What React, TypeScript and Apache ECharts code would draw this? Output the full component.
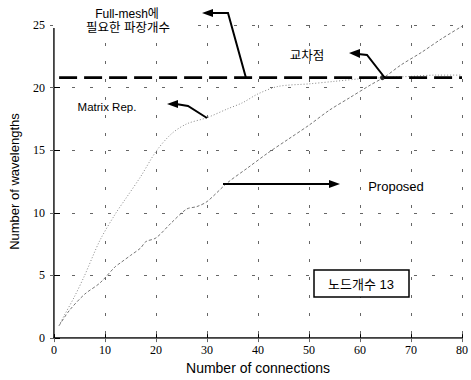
import React, { useEffect, useRef } from "react";
import * as echarts from "echarts";

const xTicks = [0, 10, 20, 30, 40, 50, 60, 70, 80];
const yTicks = [0, 5, 10, 15, 20, 25];

const matrixX = [1, 2, 4, 6, 9, 12, 14, 17, 20, 23, 26, 30, 34, 37, 40, 44, 50, 55, 60, 65, 70, 75, 80];
const matrixY = [1, 1.8, 3.3, 5.0, 7.8, 9.9, 11.1, 12.9, 14.9, 16.3, 17.1, 17.6, 18.3, 18.8, 19.5, 20.1, 20.3, 20.5, 20.7, 20.8, 20.9, 21.0, 21.0];

const propX = [1, 3, 6, 9, 12, 13, 15, 17, 18, 20, 23, 26, 28, 30, 34, 38, 42, 46, 50, 54, 58, 62, 65, 68, 72, 76, 80];
const propY = [1, 2.2, 3.5, 4.4, 5.7, 6.0, 6.6, 7.2, 7.7, 8.0, 9.2, 10.3, 10.5, 10.9, 12.4, 13.6, 14.8, 15.9, 17.0, 18.2, 19.2, 20.2, 20.9, 21.8, 22.8, 23.9, 24.9];

const fullMeshX = [1, 80];
const fullMeshY = [20.8, 20.8];

const crossX = [64.4];
const crossY = [20.8];

const sans = "'Liberation Sans', Arial, sans-serif";
const kr = "'Liberation Sans', 'Noto Sans CJK KR', sans-serif";
const serif = "'Liberation Serif', 'Times New Roman', serif";

export default function App() {
  const ref = useRef<HTMLDivElement>(null);
  useEffect(() => {
    if (!ref.current) return;
    const chart = echarts.init(ref.current, null, { renderer: "svg" });
    const pair = (xs: number[], ys: number[]) => xs.map((x, i) => [x, ys[i]]);
    const arrowLine = { stroke: "#000", lineWidth: 2, fill: null as any };
    const gridLine = { show: true, lineStyle: { color: "#666", type: [3, 15], width: 1 } };
    chart.setOption({
      animation: false,
      backgroundColor: "#fff",
      grid: { left: 51, right: 5, top: 25, bottom: 38 },
      xAxis: [
        {
          type: "value",
          min: xTicks[0],
          max: xTicks[xTicks.length - 1],
          interval: 10,
          name: "Number of connections",
          nameLocation: "middle",
          nameGap: 22,
          nameTextStyle: { fontFamily: sans, fontSize: 14, color: "#000" },
          axisLine: { lineStyle: { color: "#000", width: 1.5 } },
          axisTick: { inside: true, length: 4, lineStyle: { color: "#000" } },
          axisLabel: { fontFamily: serif, fontSize: 12, color: "#000", margin: 6 },
          splitLine: gridLine,
        },
        {
          type: "value",
          position: "top",
          min: xTicks[0],
          max: xTicks[xTicks.length - 1],
          interval: 10,
          axisLine: { show: true, lineStyle: { color: "#666", width: 1 } },
          axisTick: { show: true, inside: true, length: 4, lineStyle: { color: "#666" } },
          axisLabel: { show: false },
          splitLine: { show: false },
        },
      ],
      yAxis: [
        {
          type: "value",
          min: yTicks[0],
          max: yTicks[yTicks.length - 1],
          interval: 5,
          name: "Number of wavelengths",
          nameLocation: "middle",
          nameGap: 33,
          nameTextStyle: { fontFamily: sans, fontSize: 13, color: "#000" },
          axisLine: { lineStyle: { color: "#000", width: 1.5 } },
          axisTick: { inside: true, length: 6, lineStyle: { color: "#000" } },
          axisLabel: { fontFamily: serif, fontSize: 12, color: "#000", margin: 9 },
          splitLine: gridLine,
        },
        {
          type: "value",
          position: "right",
          min: yTicks[0],
          max: yTicks[yTicks.length - 1],
          interval: 5,
          axisLine: { show: true, lineStyle: { color: "#666", width: 1 } },
          axisTick: { show: true, inside: true, length: 4, lineStyle: { color: "#666" } },
          axisLabel: { show: false },
          splitLine: { show: false },
        },
      ],
      series: [
        {
          type: "line",
          name: "Matrix Rep.",
          data: pair(matrixX, matrixY),
          showSymbol: false,
          smooth: 0.3,
          lineStyle: { color: "#888", width: 1, type: [1, 2] },
        },
        {
          type: "line",
          name: "Proposed",
          data: pair(propX, propY),
          showSymbol: false,
          smooth: 0.3,
          lineStyle: { color: "#777", width: 1, type: [3, 2] },
        },
        {
          type: "line",
          name: "Full-mesh",
          data: pair(fullMeshX, fullMeshY),
          showSymbol: false,
          lineStyle: { color: "#000", width: 2.7, type: [18, 7] },
          z: 3,
        },
        {
          type: "scatter",
          name: "cross",
          data: pair(crossX, crossY),
          symbolSize: 5,
          itemStyle: { color: "#000" },
          z: 4,
        },
      ],
      graphic: [
        { type: "rect", z: 100, shape: { x: 53, y: 22, width: 141, height: 6 }, style: { fill: "#fff" } },
        { type: "text", z: 101, x: 127, y: 14, style: { text: "Full-mesh에", font: `12px ${kr}`, fill: "#000", align: "center", verticalAlign: "middle" } },
        { type: "text", z: 101, x: 128, y: 28, style: { text: "필요한 파장개수", font: `12.5px ${kr}`, fill: "#000", align: "center", verticalAlign: "middle" } },
        { type: "polyline", z: 101, shape: { points: [[211, 13], [228, 13], [246, 78]] }, style: arrowLine },
        { type: "polygon", z: 101, shape: { points: [[202, 13], [213, 9], [213, 17]] }, style: { fill: "#000" } },
        { type: "text", z: 101, x: 307, y: 56, style: { text: "교차점", font: `12.5px ${kr}`, fill: "#000", align: "center", verticalAlign: "middle" } },
        { type: "polyline", z: 101, shape: { points: [[358, 54], [367, 55], [385, 78]] }, style: arrowLine },
        { type: "polygon", z: 101, shape: { points: [[349, 53], [360, 49], [360, 58]] }, style: { fill: "#000" } },
        { type: "text", z: 101, x: 107, y: 107, style: { text: "Matrix Rep.", font: `11.5px ${sans}`, fill: "#000", align: "center", verticalAlign: "middle" } },
        { type: "polyline", z: 101, shape: { points: [[176, 104], [188, 106], [207, 118]] }, style: arrowLine },
        { type: "polygon", z: 101, shape: { points: [[167, 104], [178, 100], [178, 108]] }, style: { fill: "#000" } },
        { type: "text", z: 101, x: 396, y: 186, style: { text: "Proposed", font: `13px ${sans}`, fill: "#000", align: "center", verticalAlign: "middle" } },
        { type: "line", z: 101, shape: { x1: 223, y1: 184, x2: 331, y2: 184 }, style: { stroke: "#000", lineWidth: 2 } },
        { type: "polygon", z: 101, shape: { points: [[340, 184], [329, 180], [329, 188]] }, style: { fill: "#000" } },
        { type: "rect", z: 101, shape: { x: 314, y: 270, width: 95, height: 27 }, style: { fill: "#fff", stroke: "#000", lineWidth: 1.5 } },
        { type: "text", z: 102, x: 361, y: 284, style: { text: "노드개수 13", font: `13px ${kr}`, fill: "#000", align: "center", verticalAlign: "middle" } },
      ],
    });
    return () => chart.dispose();
  }, []);
  return <div ref={ref} style={{ width: 471, height: 380, position: "absolute", left: 0, top: 0 }} />;
}
